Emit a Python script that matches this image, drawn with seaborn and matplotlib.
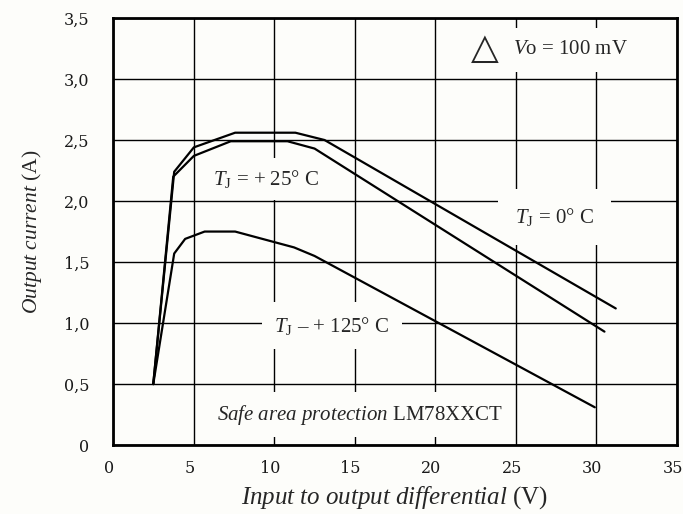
import matplotlib
matplotlib.use("Agg")
import matplotlib.pyplot as plt
import matplotlib.transforms as mtransforms
import seaborn as sns
import pandas as pd

# curves (x: input-output differential V, y: output current A)
t0_x = [2.5, 3.8, 5.02, 7.58, 11.32, 13.13, 31.2]
t0_y = [0.5, 2.24, 2.44, 2.56, 2.56, 2.50, 1.12]

t25_x = [2.5, 3.74, 5.02, 7.31, 10.83, 12.51, 30.5]
t25_y = [0.5, 2.20, 2.37, 2.49, 2.49, 2.43, 0.93]

t125_x = [2.5, 3.8, 4.48, 5.69, 7.58, 11.24, 12.51, 29.9]
t125_y = [0.5, 1.57, 1.69, 1.75, 1.75, 1.62, 1.55, 0.31]

x_ticks = [0, 5, 10, 15, 20, 25, 30, 35]
x_tick_labels = ["0", "5", "10", "15", "20", "25", "30", "35"]
y_ticks = [0, 0.5, 1.0, 1.5, 2.0, 2.5, 3.0, 3.5]
y_tick_labels = ["0", "0,5", "1,0", "1,5", "2,0", "2,5", "3,0", "3,5"]


def build_frame():
    parts = []
    for name, xs, ys in [("T0", t0_x, t0_y), ("T25", t25_x, t25_y), ("T125", t125_x, t125_y)]:
        parts.append(pd.DataFrame({"V": xs, "I": ys, "curve": name}))
    return pd.concat(parts, ignore_index=True)


def main():
    data = build_frame()

    sns.set_theme(style="white")
    plt.rcParams["font.family"] = ["Liberation Serif", "DejaVu Sans"]
    plt.rcParams["mathtext.fontset"] = "custom"
    plt.rcParams["mathtext.rm"] = "Liberation Serif"
    plt.rcParams["mathtext.it"] = "Liberation Serif:italic"

    bg = "#fdfdfa"
    fig = plt.figure(figsize=(6.83, 5.14), dpi=100, facecolor=bg)
    ax = fig.add_axes([0.1654, 0.134, 0.8258, 0.831])
    ax.set_facecolor(bg)

    sns.lineplot(data=data, x="V", y="I", hue="curve", estimator=None, sort=False,
                 palette=["black", "black", "black"], linewidth=1.6, legend=False,
                 zorder=4, ax=ax)

    ax.set_xlim(0, 35)
    ax.set_ylim(0, 3.5)
    ax.set_xticks(x_ticks)
    ax.set_xticklabels(x_tick_labels)
    ax.set_yticks(y_ticks)
    ax.set_yticklabels(y_tick_labels)
    ax.grid(True, color="black", linewidth=1.0)
    ax.set_axisbelow(True)
    for s in ax.spines.values():
        s.set_color("black")
        s.set_linewidth(2.0)
    ax.tick_params(length=0, labelsize=11.5, colors="#1a1a1a")
    ax.tick_params(axis="y", pad=17)
    ax.tick_params(axis="x", pad=11)
    # labels in the reference sit a little left of their grid lines
    shift = mtransforms.ScaledTranslation(-4 / 100, 0, fig.dpi_scale_trans)
    for lab in ax.get_xticklabels():
        lab.set_transform(lab.get_transform() + shift)
    for lab in ax.get_xticklabels() + ax.get_yticklabels():
        lab.set_family("DejaVu Serif")

    ax.set_xlabel(r"$\it{Input\ to\ output\ differential}$ (V)", fontsize=18, labelpad=5)
    ax.set_ylabel(r"$\it{Output\ current}$ (A)", fontsize=15.5, labelpad=14)

    # text boxes hide the grid but stay under the curves
    fs = 15
    ax.text(9.5, 2.18, r"$T_\mathrm{J}$ = + 25° C", fontsize=fs, ha="center", va="center",
            zorder=2, bbox=dict(boxstyle="square,pad=0.5", fc=bg, ec="none"))
    ax.text(27.4, 1.87, r"$T_\mathrm{J}$ = 0° C", fontsize=fs, ha="center", va="center",
            zorder=2, bbox=dict(boxstyle="square,pad=0.8", fc=bg, ec="none"))
    ax.text(13.6, 0.98, r"$T_\mathrm{J}$ – + 125° C", fontsize=fs, ha="center", va="center",
            zorder=2, bbox=dict(boxstyle="square,pad=0.6", fc=bg, ec="none"))
    ax.text(15.3, 0.25, r"$\it{Safe\ area\ protection}$ LM78XXCT", fontsize=fs,
            ha="center", va="center", zorder=2,
            bbox=dict(boxstyle="square,pad=0.5", fc=bg, ec="none"))
    ax.text(23.05, 3.25, "△", fontsize=26, ha="center", va="center", zorder=2,
            family=["DejaVu Sans"])
    ax.text(28.4, 3.24, r"$V$o = 100 mV", fontsize=fs, ha="center", va="center",
            zorder=2, bbox=dict(boxstyle="square,pad=0.6", fc=bg, ec="none"))

    fig.savefig("out.png", dpi=100, facecolor=bg)


if __name__ == "__main__":
    main()
